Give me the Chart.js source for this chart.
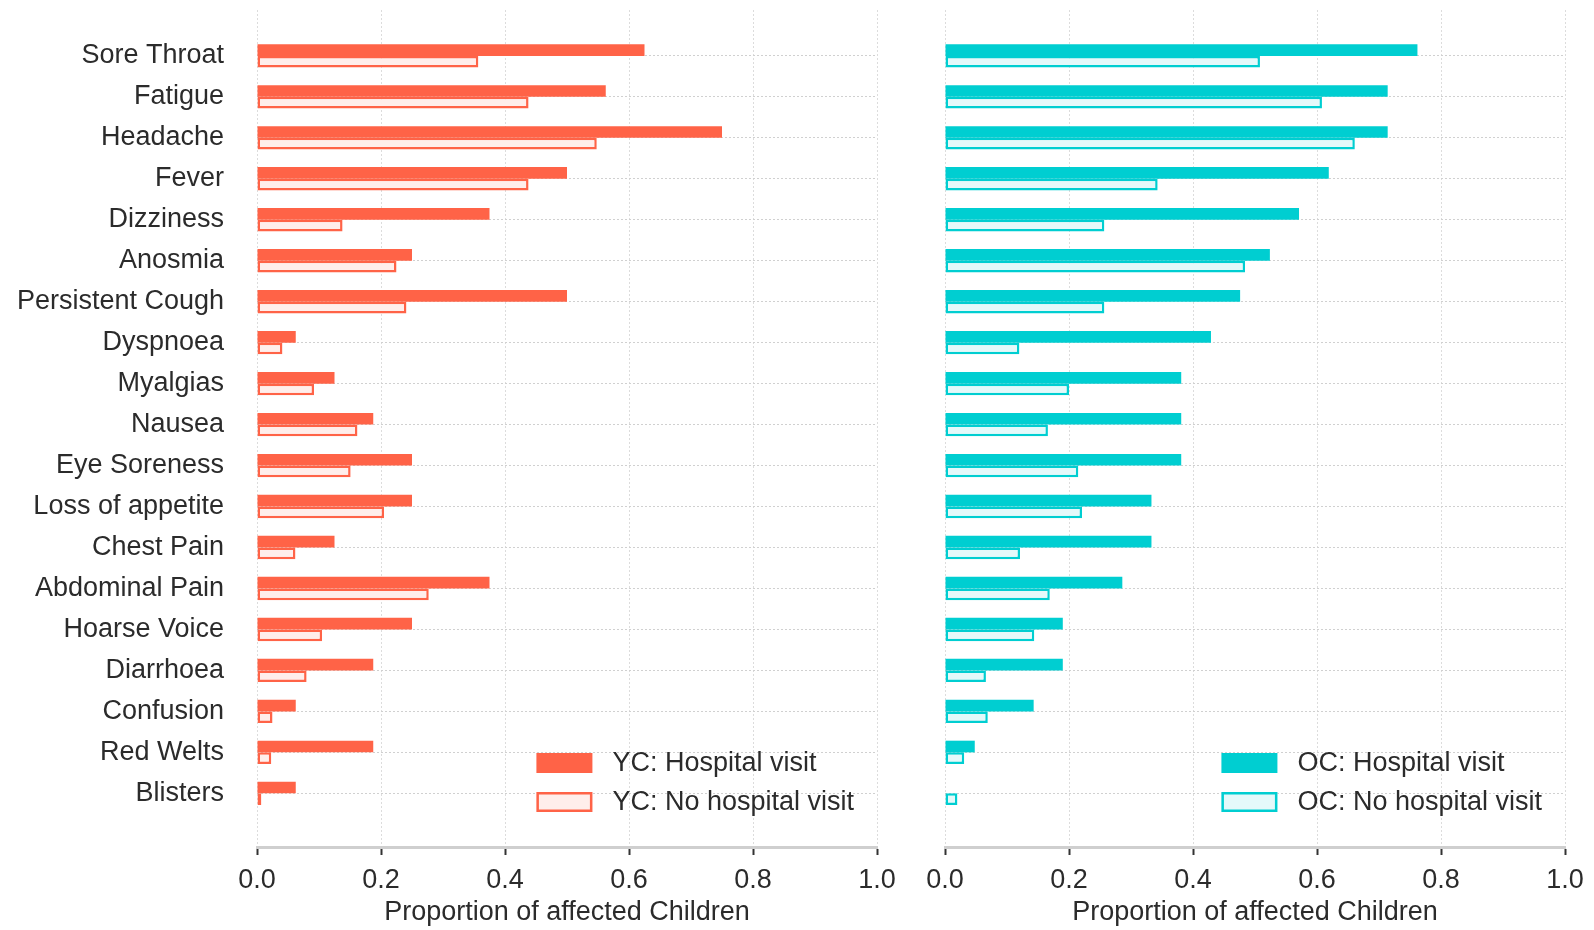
<!DOCTYPE html>
<html>
<head>
<meta charset="utf-8">
<script src="https://cdn.jsdelivr.net/npm/chart.js@4/dist/chart.umd.min.js"></script>
<style>
  html, body { margin: 0; padding: 0; background: #fff; }
  body { width: 1594px; height: 930px; position: relative; overflow: hidden; }
  .panel { position: absolute; top: 0; height: 930px; }
  #leftWrap { left: 0; width: 905px; }
  #rightWrap { left: 905px; width: 689px; }
</style>
</head>
<body>
<div class="panel" id="leftWrap"><canvas id="left"></canvas></div>
<div class="panel" id="rightWrap"><canvas id="right"></canvas></div>
<script>
const categories = ["Sore Throat", "Fatigue", "Headache", "Fever", "Dizziness", "Anosmia",
  "Persistent Cough", "Dyspnoea", "Myalgias", "Nausea", "Eye Soreness", "Loss of appetite",
  "Chest Pain", "Abdominal Pain", "Hoarse Voice", "Diarrhoea", "Confusion", "Red Welts", "Blisters"];

const ycHospital = [0.625, 0.5625, 0.75, 0.5, 0.375, 0.25, 0.5, 0.0625, 0.125, 0.1875, 0.25, 0.25,
  0.125, 0.375, 0.25, 0.1875, 0.0625, 0.1875, 0.0625];
const ycNoHospital = [0.357, 0.438, 0.548, 0.438, 0.138, 0.225, 0.241, 0.041, 0.092, 0.162, 0.151, 0.205,
  0.062, 0.277, 0.105, 0.080, 0.025, 0.023, 0.007];
const ocHospital = [0.762, 0.714, 0.714, 0.619, 0.571, 0.524, 0.476, 0.429, 0.381, 0.381, 0.381, 0.333,
  0.333, 0.286, 0.190, 0.190, 0.143, 0.048, 0.0];
const ocNoHospital = [0.508, 0.608, 0.661, 0.343, 0.257, 0.484, 0.257, 0.120, 0.200, 0.166, 0.215, 0.221,
  0.121, 0.169, 0.144, 0.066, 0.069, 0.031, 0.020];

const xTicks = [0, 0.2, 0.4, 0.6, 0.8, 1.0];
const xTitle = "Proportion of affected Children";

const FONT = '"Liberation Sans", Arial, Helvetica, sans-serif';
const FS = 27;
const TEXT = '#2b2b2b';
Chart.defaults.font.family = FONT;
Chart.defaults.font.size = FS;
Chart.defaults.color = TEXT;

const insideLegend = {
  id: 'insideLegend',
  afterDraw(chart) {
    const {ctx, chartArea} = chart;
    const ds = chart.data.datasets;
    ctx.save();
    ctx.font = FS + 'px ' + FONT;
    const textW = Math.max(...ds.map(d => ctx.measureText(d.label).width));
    const textX = chartArea.right - 23 - textW;
    const swW = 56, swH = 20;
    const swX = textX - 20 - swW;
    const rows = [chartArea.bottom - 84, chartArea.bottom - 45];
    ds.forEach((d, i) => {
      const cy = rows[i];
      const bw = d.borderWidth || 0;
      ctx.fillStyle = d.backgroundColor;
      ctx.fillRect(swX, cy - swH / 2, swW, swH);
      if (bw > 0) {
        ctx.strokeStyle = d.borderColor;
        ctx.lineWidth = bw;
        ctx.strokeRect(swX + bw / 2, cy - swH / 2 + bw / 2, swW - bw, swH - bw);
      }
      ctx.fillStyle = TEXT;
      ctx.textBaseline = 'middle';
      ctx.textAlign = 'left';
      ctx.fillText(d.label, textX, cy + 1);
    });
    ctx.restore();
  }
};

function makeChart(canvasId, hosp, noHosp, prefix, color, light, showLabels, yWidth, padRight) {
  const toPts = arr => arr.map((v, i) => ({x: v, y: i}));
  return new Chart(document.getElementById(canvasId), {
    type: 'bar',
    data: {
      datasets: [
        {label: prefix + ': Hospital visit', data: toPts(hosp), backgroundColor: color,
          borderColor: color, borderWidth: 0},
        {label: prefix + ': No hospital visit', data: toPts(noHosp), backgroundColor: light,
          borderColor: color, borderWidth: 2.5, borderSkipped: false}
      ]
    },
    options: {
      indexAxis: 'y',
      responsive: true,
      maintainAspectRatio: false,
      animation: false,
      devicePixelRatio: 1,
      categoryPercentage: 0.57,
      barPercentage: 1.0,
      layout: {padding: {left: 0, right: padRight, top: 10, bottom: 0}},
      plugins: {legend: {display: false}, tooltip: {enabled: false}},
      scales: {
        x: {
          type: 'linear', min: 0, max: 1, offset: false,
          afterBuildTicks: s => { s.ticks = xTicks.map(v => ({value: v})); },
          afterFit: s => { s.height = 83; s.paddingLeft = 0; s.paddingRight = 0; },
          ticks: {callback: v => Number(v).toFixed(1), padding: 9, color: TEXT, font: {size: FS}},
          grid: {offset: false, color: '#dcdcdc', lineWidth: 1, drawTicks: true, tickLength: 8,
            tickColor: '#333', tickWidth: 2, tickBorderDash: []},
          border: {display: true, color: '#cfcfcf', width: 3, dash: [2, 2]},
          title: {display: true, text: xTitle, color: TEXT, font: {size: FS}, padding: {top: 0, bottom: 1}}
        },
        y: {
          type: 'linear', reverse: true, min: -1.12, max: 19.31, offset: false,
          afterBuildTicks: s => { s.ticks = categories.map((_, i) => ({value: i})); },
          afterFit: s => { s.width = yWidth; s.paddingTop = 0; s.paddingBottom = 0; },
          ticks: {display: showLabels, callback: v => categories[v], padding: 33, color: TEXT, font: {size: FS}, autoSkip: false},
          grid: {offset: false, color: '#d0d0d0', lineWidth: 1, drawTicks: false},
          border: {display: false, dash: [2, 2]}
        }
      }
    },
    plugins: [insideLegend]
  });
}

makeChart('left', ycHospital, ycNoHospital, 'YC', 'rgb(255,99,71)', 'rgb(255,238,235)', true, 257, 28);
makeChart('right', ocHospital, ocNoHospital, 'OC', 'rgb(0,206,209)', 'rgb(228,249,250)', false, 40, 29);
</script>
</body>
</html>
